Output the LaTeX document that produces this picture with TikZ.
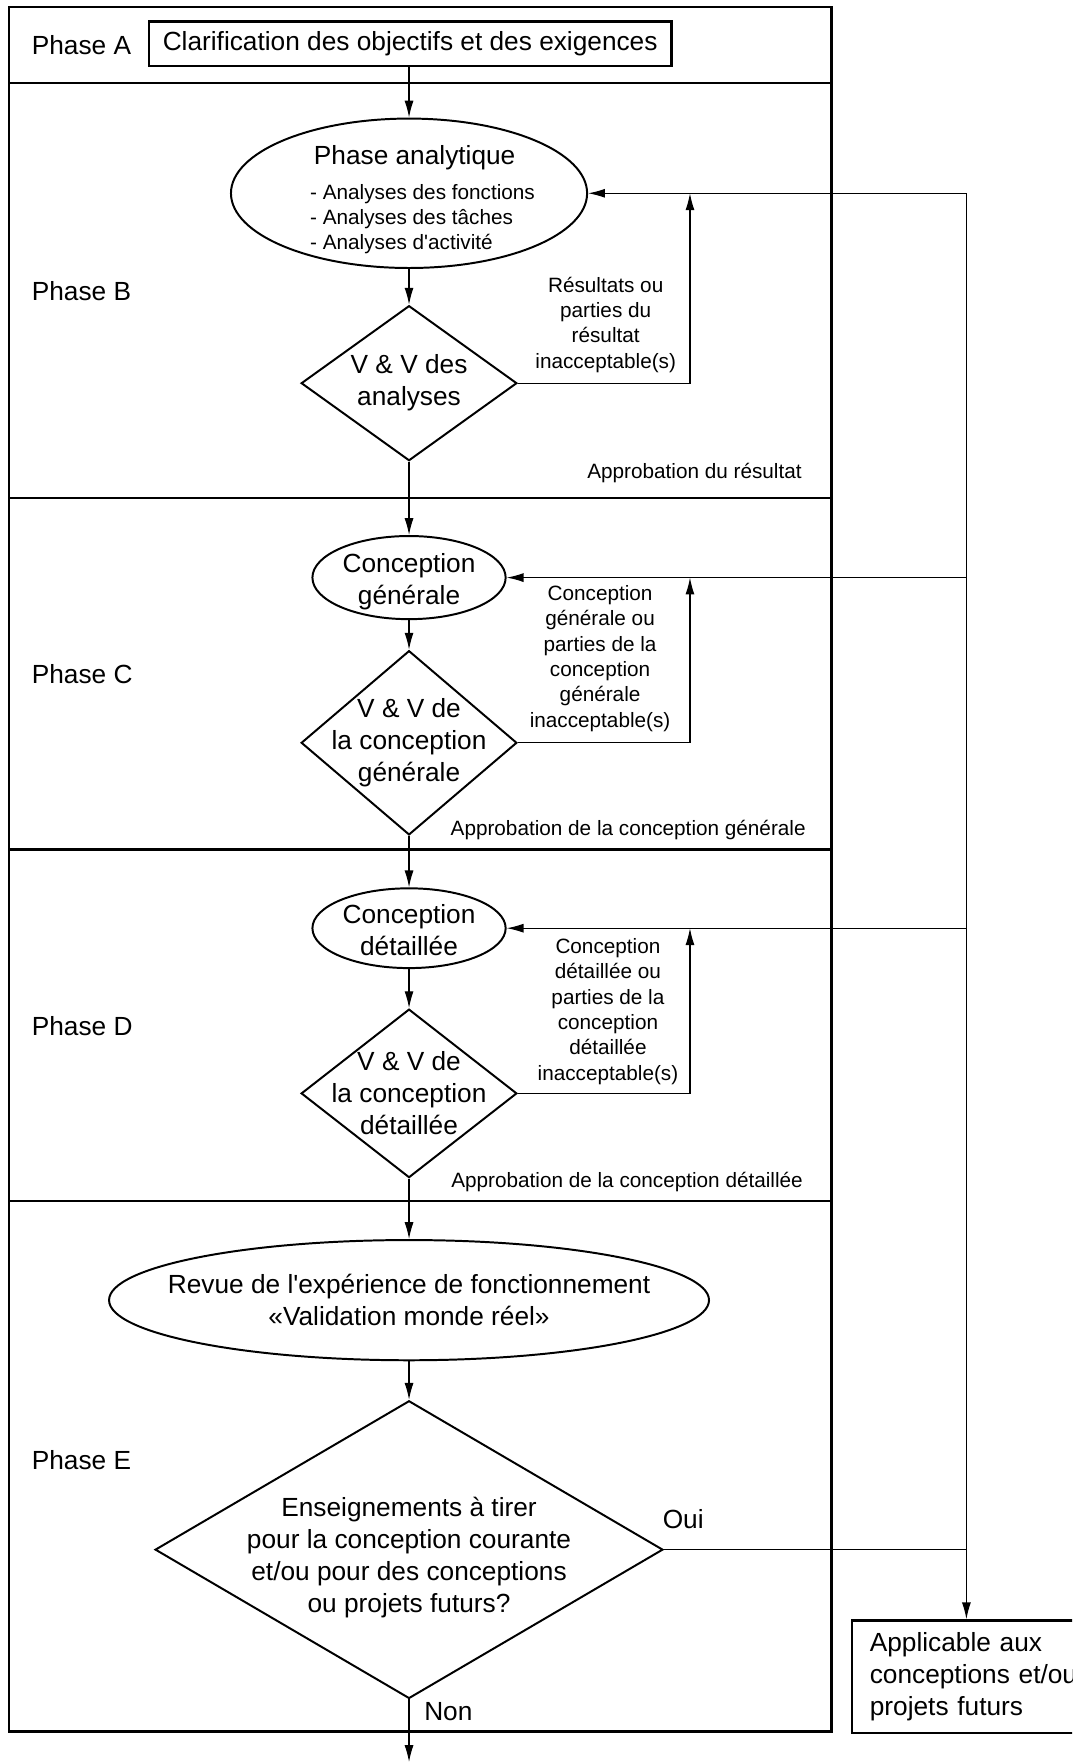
\documentclass[tikz,border=0pt]{standalone}
\usepackage{fontspec}
\setmainfont{Liberation Sans}[Ligatures=TeXOff]
\usetikzlibrary{positioning, arrows.meta, shapes.geometric}

\begin{document}
\begin{tikzpicture}[
  x=0.02cm, y=-0.02cm,
  font=\fontsize{13.3}{16.2}\selectfont,
  lane/.style={draw, line width=1.2pt},
  oval/.style={ellipse, draw, line width=1pt, inner sep=0pt},
  vv/.style={diamond, draw, line width=1pt, inner sep=0pt},
  tbox/.style={rectangle, draw, line width=1.2pt},
  shapetxt/.style={align=center, inner sep=0pt},
  note/.style={align=center, inner sep=0pt, font=\fontsize{10.5}{12.85}\selectfont},
  phase/.style={anchor=west, inner sep=0pt},
  arr/.style={-{Latex[length=3mm, width=1.6mm]}, line width=0.6pt},
  link/.style={line width=0.6pt}
]
\useasboundingbox (0,0) rectangle (954,1568);
\clip (0,0) rectangle (954,1568);

% swimlanes
\draw[lane] (8,6) rectangle (740,1541);
\foreach \y in {74,443,756,1069}
  \draw[lane] (8,\y) -- (740,\y);

\node[phase] (pA) at (28,40) {Phase A};
\node[phase] (pB) at (28,259) {Phase B};
\node[phase] (pC) at (28,600) {Phase C};
\node[phase] (pD) at (28,913) {Phase D};
\node[phase] (pE) at (28,1299) {Phase E};

% main column
\node[tbox, minimum width=9.3cm, minimum height=0.8cm] (clar) at (365,39)
  {Clarification des objectifs et des exigences};
\node[oval, minimum width=6.34cm, minimum height=2.66cm,
  label={[shapetxt, xshift=0.1cm, yshift=-4pt]center:{Phase analytique\\[1.5pt]\hspace*{8pt}\fontsize{10.5}{12.8}\selectfont
    \begin{tabular}[t]{@{}l@{}}- Analyses des fonctions\\- Analyses des tâches\\- Analyses d'activité\end{tabular}}}]
  (ana) at (364,172) {};
\node[vv, minimum width=3.84cm, minimum height=2.76cm,
  label={[shapetxt]center:{V \& V des\\analyses}}] (vva) at (364,341) {};
\node[oval, minimum width=3.44cm, minimum height=1.48cm,
  label={[shapetxt, yshift=-2pt]center:{Conception\\générale}}] (cg) at (364,514) {};
\node[vv, minimum width=3.84cm, minimum height=3.28cm,
  label={[shapetxt]center:{V \& V de\\la conception\\générale}}] (vvc) at (364,661) {};
\node[oval, minimum width=3.44cm, minimum height=1.42cm,
  label={[shapetxt, yshift=-1pt]center:{Conception\\détaillée}}] (cd) at (364,826) {};
\node[vv, minimum width=3.84cm, minimum height=3.0cm,
  label={[shapetxt]center:{V \& V de\\la conception\\détaillée}}] (vvd) at (364,973) {};
\node[oval, minimum width=10.68cm, minimum height=2.14cm,
  label={[shapetxt]center:{Revue de l'expérience de fonctionnement\\«Validation monde réel»}}]
  (revue) at (364,1157) {};
\node[vv, minimum width=9.04cm, minimum height=5.3cm,
  label={[shapetxt, yshift=-4pt]center:{Enseignements à tirer\\pour la conception courante\\et/ou pour des conceptions\\ou projets futurs?}}]
  (lesson) at (364,1379) {};

% side notes
\node[note] (nB) at (539,289) {Résultats ou\\parties du\\résultat\\inacceptable(s)};
\node[note] (okB) at (618,421) {Approbation du résultat};
\node[note] (nC) at (534,586) {Conception\\générale ou\\parties de la\\conception\\générale\\inacceptable(s)};
\node[note] (okC) at (559,739) {Approbation de la conception générale};
\node[note] (nD) at (541,900) {Conception\\détaillée ou\\parties de la\\conception\\détaillée\\inacceptable(s)};
\node[note] (okD) at (558,1052) {Approbation de la conception détaillée};
\node[inner sep=0pt] (oui) at (608,1352) {Oui};
\node[inner sep=0pt] (non) at (399,1523) {Non};

\node[tbox, anchor=north west, minimum height=2cm,
  text width=3.7cm, inner xsep=0.32cm, align=left] (appl) at (757,1441)
  {Applicable aux\\conceptions et/ou\\projets futurs};

\coordinate (rail) at (860,172);
\coordinate (fbB) at (614,172);
\coordinate (fbC) at (614,514);
\coordinate (fbD) at (614,826);
\coordinate (exit) at (364,1568);

% connectors
\draw[arr] (clar.south -| ana) -- (ana);
\draw[arr] (ana) -- (vva);
\draw[arr] (vva) -- (cg);
\draw[arr] (cg) -- (vvc);
\draw[arr] (vvc) -- (cd);
\draw[arr] (cd) -- (vvd);
\draw[arr] (vvd) -- (revue);
\draw[arr] (revue) -- (lesson);
\draw[arr] (lesson) -- (exit);
\draw[arr] (vva.east) -| (fbB);
\draw[arr] (vvc.east) -| (fbC);
\draw[arr] (vvd.east) -| (fbD);
\draw[arr] (rail) -- (ana.east);
\draw[arr] (rail |- cg.east) -- (cg.east);
\draw[arr] (rail |- cd.east) -- (cd.east);
\draw[link] (lesson.east) -- (lesson.east -| rail);
\draw[arr] (rail) -- (rail |- appl.north);
\end{tikzpicture}
\end{document}
